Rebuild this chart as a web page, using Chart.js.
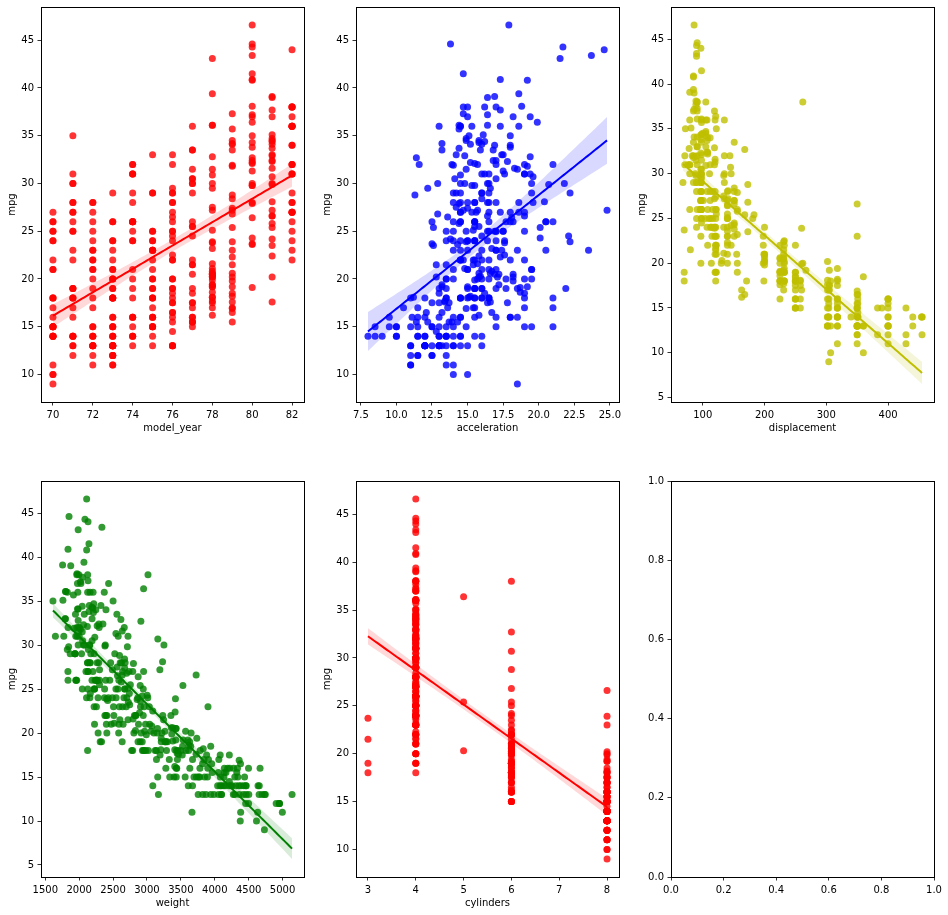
<!DOCTYPE html>
<html>
<head>
<meta charset="utf-8">
<script src="https://cdn.jsdelivr.net/npm/chart.js@4.4.0/dist/chart.umd.min.js"></script>
<style>
body { margin:0; background:#fff; width:948px; height:915px; overflow:hidden; position:relative; }
.panel { position:absolute; }
</style>
</head>
<body>

<div class="panel" id="p0"><canvas id="c0"></canvas></div>
<div class="panel" id="p1"><canvas id="c1"></canvas></div>
<div class="panel" id="p2"><canvas id="c2"></canvas></div>
<div class="panel" id="p3"><canvas id="c3"></canvas></div>
<div class="panel" id="p4"><canvas id="c4"></canvas></div>
<div class="panel" id="p5"><canvas id="c5"></canvas></div>

<script>
// auto-mpg rows, one value per car, same order in every array
var mpg = [
18,15,18,16,17,15,14,14,14,15,
15,14,15,14,24,22,18,21,27,26,
25,24,25,26,21,10,10,11,9,27,
28,25,25,19,16,17,19,18,14,14,
14,14,12,13,13,18,22,19,18,23,
28,30,30,31,35,27,26,24,25,23,
20,21,13,14,15,14,17,11,13,12,
13,19,15,13,13,14,18,22,21,26,
22,28,23,28,27,13,14,13,14,15,
12,13,13,14,13,12,13,18,16,18,
18,23,26,11,12,13,12,18,20,21,
22,18,19,21,26,15,16,29,24,20,
19,15,24,20,11,20,21,19,15,31,
26,32,25,16,16,18,16,13,14,14,
14,29,26,26,31,32,28,24,26,24,
26,31,19,18,15,15,16,15,16,14,
17,16,15,18,21,20,13,29,23,20,
23,24,25,24,18,29,19,23,23,22,
25,33,28,25,25,26,27,17.5,16,15.5,
14.5,22,22,24,22.5,29,24.5,29,33,20,
18,18.5,17.5,29.5,32,28,26.5,20,13,19,
19,16.5,16.5,13,13,13,31.5,30,36,25.5,
33.5,17.5,17,15.5,15,17.5,20.5,19,18.5,16,
15.5,15.5,16,29,24.5,26,25.5,30.5,33.5,30,
30.5,22,21.5,21.5,43.1,36.1,32.8,39.4,36.1,19.9,
19.4,20.2,19.2,20.5,20.2,25.1,20.5,19.4,20.6,20.8,
18.6,18.1,19.2,17.7,18.1,17.5,30,27.5,27.2,30.9,
21.1,23.2,23.8,23.9,20.3,17,21.6,16.2,31.5,29.5,
21.5,19.8,22.3,20.2,20.6,17,17.6,16.5,18.2,16.9,
15.5,19.2,18.5,31.9,34.1,35.7,27.4,25.4,23,27.2,
23.9,34.2,34.5,31.8,37.3,28.4,28.8,26.8,33.5,41.5,
38.1,32.1,37.2,28,26.4,24.3,19.1,34.3,29.8,31.3,
37,32.2,46.6,27.9,40.8,44.3,43.4,36.4,30,44.6,
40.9,33.8,29.8,32.7,23.7,35,23.6,32.4,27.2,26.6,
25.8,23.5,30,39.1,39,35.1,32.3,37,37.7,34.1,
34.7,34.4,29.9,33,34.5,33.7,32.4,32.9,31.6,28.1,
30.7,25.4,24.2,22.4,26.6,20.2,17.6,28,27,34,
31,29,27,24,23,36,37,31,38,36,
36,36,34,38,32,38,25,38,26,22,
32,36,27,27,44,32,28,31
];

var cylinders = [
8,8,8,8,8,8,8,8,8,8,
8,8,8,8,4,6,6,6,4,4,
4,4,4,4,6,8,8,8,8,4,
4,4,4,6,6,6,6,6,8,8,
8,8,8,8,8,6,4,6,6,4,
4,4,4,4,4,4,4,4,4,4,
4,4,8,8,8,8,8,8,8,8,
8,3,8,8,8,8,4,4,4,4,
4,4,4,4,4,8,8,8,8,8,
8,8,8,8,8,8,8,6,6,6,
6,6,4,8,8,8,8,6,4,4,
4,3,4,6,4,8,8,4,4,4,
4,8,4,6,8,6,6,6,6,4,
4,4,4,6,6,6,8,8,8,8,
8,4,4,4,4,4,4,4,4,4,
4,4,6,6,6,6,8,8,8,8,
6,6,6,6,6,8,8,4,4,6,
4,4,4,4,6,4,6,4,4,4,
4,4,4,4,4,4,4,8,8,8,
8,6,6,6,6,4,4,4,4,6,
6,6,6,4,4,4,4,4,8,4,
6,6,8,8,8,8,4,4,4,4,
4,8,8,8,8,6,6,6,6,8,
8,8,8,4,4,4,4,4,4,4,
4,6,4,3,4,4,4,4,4,8,
8,8,6,6,6,4,6,6,6,6,
6,6,8,6,8,8,4,4,4,4,
4,4,4,4,5,6,4,6,4,4,
6,6,4,6,6,8,8,8,8,8,
8,8,8,4,4,4,4,5,8,4,
8,4,4,4,4,4,6,6,4,4,
4,4,4,4,4,4,6,4,4,4,
4,4,4,4,4,4,4,5,4,4,
4,4,4,6,3,4,4,4,4,4,
4,6,4,4,4,4,4,4,4,4,
4,4,4,4,4,4,4,4,4,4,
6,6,6,6,8,6,6,4,4,4,
4,4,4,4,4,4,4,4,4,4,
4,4,4,4,4,4,6,6,4,6,
4,4,4,4,4,4,4,4
];

var displacement = [
307,350,318,304,302,429,454,440,455,390,
383,340,400,455,113,198,199,200,97,97,
110,107,104,121,199,360,307,318,304,97,
140,113,98,232,225,250,250,232,350,400,
351,318,383,400,400,258,140,250,250,122,
116,79,88,71,72,97,91,113,97.5,97,
140,122,350,400,318,351,304,429,350,350,
400,70,304,307,302,318,121,121,120,96,
122,97,120,98,97,350,304,350,302,318,
429,400,351,318,440,455,360,225,250,232,
250,198,97,400,400,360,350,232,97,140,
108,70,122,155,98,350,400,68,116,114,
121,318,121,156,350,198,200,232,250,79,
122,71,140,250,258,225,302,350,318,302,
304,98,79,97,76,83,90,90,116,120,
108,79,225,250,250,250,400,350,318,351,
231,250,258,225,231,262,302,97,140,232,
140,134,90,119,171,90,232,115,120,121,
121,91,107,116,140,98,101,305,318,304,
351,225,250,200,232,85,98,90,91,225,
250,250,258,97,85,97,140,130,318,120,
156,168,350,350,302,318,98,111,79,122,
85,305,260,318,302,250,231,225,250,400,
350,400,351,97,151,97,140,98,98,97,
97,146,121,80,90,98,78,85,91,260,
318,302,231,200,200,140,225,232,231,200,
225,258,305,231,302,318,98,134,119,105,
134,156,151,119,131,163,121,163,89,98,
231,200,140,232,225,305,302,351,318,350,
351,267,360,89,86,98,121,183,350,141,
260,105,105,85,91,151,173,173,151,98,
89,98,86,151,140,151,225,97,134,120,
119,108,86,156,85,90,90,121,146,91,
85,97,89,168,70,122,140,107,135,151,
156,173,135,79,86,81,97,85,89,91,
105,98,98,105,100,107,108,119,120,141,
145,168,146,231,350,200,225,112,112,112,
112,135,151,140,151,105,91,91,105,98,
120,107,108,91,91,91,181,262,156,232,
144,135,151,140,97,135,120,119
];

var weight = [
3504,3693,3436,3433,3449,4341,4354,4312,4425,3850,
3563,3609,3761,3086,2372,2833,2774,2587,2130,1835,
2672,2430,2375,2234,2648,4615,4376,4382,4732,2130,
2264,2228,2046,2634,3439,3329,3302,3288,4209,4464,
4154,4096,4955,4746,5140,2962,2408,3282,3139,2220,
2123,2074,2065,1773,1613,1834,1955,2278,2126,2254,
2408,2226,4274,4385,4135,4129,3672,4633,4502,4456,
4422,2330,3892,4098,4294,4077,2933,2511,2979,2189,
2395,2288,2506,2164,2100,4100,3672,3988,4042,3777,
4952,4464,4363,4237,4735,4951,3821,3121,3278,2945,
3021,2904,1950,4997,4906,4654,4499,2789,2279,2401,
2379,2124,2310,2472,2265,4082,4278,1867,2158,2582,
2868,3399,2660,2807,3664,3102,2875,2901,3336,1950,
2451,1836,2542,3781,3632,3613,4141,4699,4457,4638,
4257,2219,1963,2300,1649,2003,2125,2108,2246,2489,
2391,2000,3264,3459,3432,3158,4668,4440,4498,4657,
3907,3897,3730,3785,3039,3221,3169,2171,2639,2914,
2592,2702,2223,2545,2984,1937,3211,2694,2957,2945,
2671,1795,2464,2220,2572,2255,2202,4215,4190,3962,
4215,3233,3353,3012,3085,2035,2164,1937,1795,3651,
3574,3645,3193,1825,1990,2155,2565,3150,3940,3270,
2930,3820,4380,4055,3870,3755,2045,2155,1825,2300,
1945,3880,4060,4140,4295,3520,3425,3630,3525,4220,
4165,4325,4335,1940,2740,2265,2755,2051,2075,1985,
2190,2815,2600,2720,1985,1800,1985,2070,1800,3365,
3735,3570,3535,3155,2965,2720,3430,3210,3380,3070,
3620,3410,3425,3445,3205,4080,2155,2560,2300,2230,
2515,2745,2855,2405,2830,3140,2795,3410,1990,2135,
3245,2990,2890,3265,3360,3840,3725,3955,3830,4360,
4054,3605,3940,1925,1975,1915,2670,3530,3900,3190,
3420,2200,2150,2020,2130,2670,2595,2700,2556,2144,
1968,2120,2019,2678,2870,3003,3381,2188,2711,2542,
2434,2265,2110,2800,2110,2085,2335,2950,3250,1850,
1835,2145,1845,2910,2420,2500,2905,2290,2490,2635,
2620,2725,2385,1755,1875,1760,2065,1975,2050,1985,
2215,2045,2380,2190,2320,2210,2350,2615,2635,3230,
3160,2900,2930,3415,3725,3060,3465,2605,2640,2395,
2575,2525,2735,2865,3035,1980,2025,1970,2125,2125,
2160,2205,2245,1965,1965,1995,2945,3015,2585,2835,
2665,2370,2950,2790,2130,2295,2625,2720
];

var acceleration = [
12,11.5,11,12,10.5,10,9,8.5,10,8.5,
10,8,9.5,10,15,15.5,15.5,16,14.5,20.5,
17.5,14.5,17.5,12.5,15,14,15,13.5,18.5,14.5,
15.5,14,19,13,15.5,15.5,15.5,15.5,12,11.5,
13.5,13,11.5,12,12,13.5,19,15,14.5,14,
14,19.5,14.5,19,18,19,20.5,15.5,17,23.5,
19.5,16.5,12,12,13.5,13,11.5,11,13.5,13.5,
12.5,13.5,12.5,14,16,14,14.5,18,19.5,18,
16,17,14.5,15,16.5,13,11.5,13,14.5,12.5,
11.5,12,13,14.5,11,11,11,16.5,18,16,
16.5,16,21,14,12.5,13,12.5,15,19,19.5,
16.5,13.5,18.5,14,15.5,13,9.5,19.5,15.5,14,
15.5,11,14,13.5,11,16.5,17,16,17,19,
16.5,21,17,17,18,16.5,14,14.5,13.5,16,
15.5,16.5,15.5,14.5,16.5,19,14.5,15.5,14,15,
15.5,16,16,16,21,19.5,11.5,14,14.5,13.5,
21,18.5,19,19,15,13.5,12,16,17,16,
18.5,13.5,16.5,17,14.5,14,17,15,17,14.5,
13.5,17.5,15.5,16.9,14.9,17.7,15.3,13,13,13.9,
12.8,15.4,14.5,17.6,17.6,22.2,22.1,14.2,17.4,17.7,
21,16.2,17.8,12.2,17,16.4,13.6,15.7,13.2,21.9,
15.5,16.7,12.1,12,15,14,18.5,14.8,18.6,15.5,
16.8,12.5,19,13.7,14.9,16.4,16.9,17.7,19,11.1,
11.4,12.2,14.5,14.5,16,18.2,15.8,17,15.9,16.4,
14.1,14.5,12.8,13.5,21.5,14.4,19.4,18.6,16.4,15.5,
13.2,12.8,19.2,18.2,15.8,15.4,17.2,17.2,15.8,16.7,
18.7,15.1,13.2,13.4,11.2,13.7,16.5,14.2,14.7,14.5,
14.8,16.7,17.6,14.9,15.9,13.6,15.7,15.8,14.9,16.6,
15.4,18.2,17.3,18.2,16.6,15.4,13.4,13.2,15.2,14.9,
14.3,15,13,14,15.2,14.4,15,20.1,17.4,24.8,
22.2,13.2,14.9,19.2,14.7,16,11.3,12.9,13.2,14.7,
18.8,15.5,16.4,16.5,18.1,20.1,18.7,15.8,15.5,17.5,
15,15.2,17.9,14.4,19.2,21.7,23.7,19.9,21.8,13.8,
17.3,18,15.3,11.4,12.5,15.1,14.3,17,15.7,16.4,
14.4,12.6,12.9,16.9,16.4,16.1,17.8,19.4,17.3,16,
14.9,16.2,20.7,14.2,15.8,14.4,16.8,14.8,18.3,20.4,
19.6,12.6,13.8,15.8,19,17.1,16.6,19.6,18.6,18,
16.2,16,18,16.4,20.5,15.3,18.2,17.6,14.7,17.3,
14.5,14.5,16.9,15,15.7,16.2,16.4,17,14.5,14.7,
13.9,13,17.3,15.6,24.6,11.6,18.6,19.4
];

var modelYear = [
70,70,70,70,70,70,70,70,70,70,
70,70,70,70,70,70,70,70,70,70,
70,70,70,70,70,70,70,70,70,71,
71,71,71,71,71,71,71,71,71,71,
71,71,71,71,71,71,71,71,71,71,
71,71,71,71,71,71,71,72,72,72,
72,72,72,72,72,72,72,72,72,72,
72,72,72,72,72,72,72,72,72,72,
72,72,72,72,72,73,73,73,73,73,
73,73,73,73,73,73,73,73,73,73,
73,73,73,73,73,73,73,73,73,73,
73,73,73,73,73,73,73,73,73,73,
73,73,73,73,73,74,74,74,74,74,
74,74,74,74,74,74,74,74,74,74,
74,74,74,74,74,74,74,74,74,74,
74,74,75,75,75,75,75,75,75,75,
75,75,75,75,75,75,75,75,75,75,
75,75,75,75,75,75,75,75,75,75,
75,75,76,76,76,76,76,76,76,76,
76,76,76,76,76,76,76,76,76,76,
76,76,76,76,76,76,76,76,76,76,
76,76,76,76,76,76,77,77,77,77,
77,77,77,77,77,77,77,77,77,77,
77,77,77,77,77,77,77,77,77,77,
77,77,77,77,78,78,78,78,78,78,
78,78,78,78,78,78,78,78,78,78,
78,78,78,78,78,78,78,78,78,78,
78,78,78,78,78,78,78,78,78,78,
79,79,79,79,79,79,79,79,79,79,
79,79,79,79,79,79,79,79,79,79,
79,79,79,79,79,79,79,79,79,80,
80,80,80,80,80,80,80,80,80,80,
80,80,80,80,80,80,80,80,80,80,
80,80,80,80,80,80,80,80,81,81,
81,81,81,81,81,81,81,81,81,81,
81,81,81,81,81,81,81,81,81,81,
81,81,81,81,81,81,81,82,82,82,
82,82,82,82,82,82,82,82,82,82,
82,82,82,82,82,82,82,82,82,82,
82,82,82,82,82,82,82,82
];

// tick labels
var mpgTicks = [10, 15, 20, 25, 30, 35, 40, 45];
var mpgTicksFrom5 = [5, 10, 15, 20, 25, 30, 35, 40, 45];
var yearTicks = [70, 72, 74, 76, 78, 80, 82];
var accelerationTicks = [7.5, 10, 12.5, 15, 17.5, 20, 22.5, 25];
var displacementTicks = [100, 200, 300, 400];
var weightTicks = [1500, 2000, 2500, 3000, 3500, 4000, 4500, 5000];
var cylinderTicks = [3, 4, 5, 6, 7, 8];
var unitTicks = [0, 0.2, 0.4, 0.6, 0.8, 1.0];

var panels = [
	{ x: modelYear, name: "model_year", rgb: "255,0,0", xTicks: yearTicks, yTicks: mpgTicks, digits: 0 },
	{ x: acceleration, name: "acceleration", rgb: "0,0,255", xTicks: accelerationTicks, yTicks: mpgTicks, digits: 1 },
	{ x: displacement, name: "displacement", rgb: "191,191,0", xTicks: displacementTicks, yTicks: mpgTicksFrom5, digits: 0 },
	{ x: weight, name: "weight", rgb: "0,128,0", xTicks: weightTicks, yTicks: mpgTicksFrom5, digits: 0 },
	{ x: cylinders, name: "cylinders", rgb: "255,0,0", xTicks: cylinderTicks, yTicks: mpgTicks, digits: 0 },
	{ x: null, name: "", rgb: "0,0,0", xTicks: unitTicks, yTicks: unitTicks, digits: 1 }
];

// plot areas on the page (left, top, width, height)
var boxes = [
	[41, 7, 263, 395], [356, 7, 263, 395], [671, 7, 263, 395],
	[41, 481, 263, 396], [356, 481, 263, 396], [671, 481, 263, 396]
];
var AXIS_W = 40, AXIS_H = 32, PAD_TOP = 8, PAD_RIGHT = 10;

// least squares line with a 95% band for the mean, on a 100 point grid
function regression(xs, ys)
{
	var n = xs.length, mx = 0, my = 0;
	for (var i = 0; i < n; i++) { mx += xs[i]; my += ys[i]; }
	mx /= n; my /= n;
	var sxx = 0, sxy = 0;
	for (var i = 0; i < n; i++) {
		sxx += (xs[i] - mx) * (xs[i] - mx);
		sxy += (xs[i] - mx) * (ys[i] - my);
	}
	var b = sxy / sxx, a = my - b * mx;
	var sse = 0;
	for (var i = 0; i < n; i++) sse += Math.pow(ys[i] - a - b * xs[i], 2);
	var s = Math.sqrt(sse / (n - 2));
	var lo = Math.min.apply(null, xs), hi = Math.max.apply(null, xs);
	var line = [], upper = [], lower = [];
	for (var k = 0; k < 100; k++) {
		var x = lo + (hi - lo) * k / 99;
		var yh = a + b * x;
		var se = 1.966 * s * Math.sqrt(1 / n + (x - mx) * (x - mx) / sxx);
		line.push({ x: x, y: yh });
		upper.push({ x: x, y: yh + se });
		lower.push({ x: x, y: yh - se });
	}
	return { line: line, upper: upper, lower: lower, lo: lo, hi: hi };
}

var framePlugin = {
	id: "frame",
	afterDatasetsDraw: function(chart) {
		var ctx = chart.ctx, a = chart.chartArea;
		ctx.save();
		ctx.strokeStyle = "#000";
		ctx.lineWidth = 1;
		ctx.strokeRect(a.left + 0.5, a.top + 0.5, a.right - a.left, a.bottom - a.top);
		ctx.restore();
	}
};

var font = { family: "'DejaVu Sans'", size: 10 };

function axis(ticks, digits, title, min, max, horizontal)
{
	return {
		type: "linear",
		min: min,
		max: max,
		afterBuildTicks: function(scale) { scale.ticks = ticks.map(function(v) { return { value: v }; }); },
		afterFit: function(scale) {
			if (horizontal) scale.height = AXIS_H; else scale.width = AXIS_W;
			scale.paddingLeft = scale.paddingRight = scale.paddingTop = scale.paddingBottom = 0;
		},
		grid: { display: true, drawOnChartArea: false, drawTicks: true, tickLength: 3.5, tickWidth: 0.8, tickColor: "#000" },
		border: { display: false },
		ticks: {
			padding: 3.5, color: "#000", font: font, maxRotation: 0, autoSkip: false,
			callback: function(v) { return Number(v).toFixed(digits); }
		},
		title: {
			display: title != "", text: title, color: "#000", font: font,
			padding: horizontal ? { top: 0, bottom: 0 } : { top: 5, bottom: 0 }
		}
	};
}

panels.forEach(function(p, i) {
	var box = boxes[i];
	var div = document.getElementById("p" + i);
	div.style.left = (box[0] - AXIS_W) + "px";
	div.style.top = (box[1] - PAD_TOP) + "px";
	div.style.width = (AXIS_W + box[2] + PAD_RIGHT) + "px";
	div.style.height = (PAD_TOP + box[3] + AXIS_H) + "px";

	var datasets = [];
	var xMin = 0, xMax = 1, yMin = 0, yMax = 1;

	if (p.x) {
		var fit = regression(p.x, mpg);
		var points = p.x.map(function(v, j) { return { x: v, y: mpg[j] }; });
		datasets = [
			{ type: "line", data: fit.line, borderColor: "rgb(" + p.rgb + ")", borderWidth: 2, pointRadius: 0, fill: false, order: 0 },
			{ type: "line", data: fit.upper, borderColor: "transparent", borderWidth: 0, pointRadius: 0,
				fill: "+1", backgroundColor: "rgba(" + p.rgb + ",0.15)", order: 1 },
			{ type: "line", data: fit.lower, borderColor: "transparent", borderWidth: 0, pointRadius: 0, fill: false, order: 1 },
			{ type: "scatter", data: points, pointRadius: 3.5, borderWidth: 0,
				backgroundColor: "rgba(" + p.rgb + ",0.8)", order: 2 }
		];
		// limits the way matplotlib autoscales: data extent plus 5% each side
		var lows = mpg.concat(fit.lower.map(function(q) { return q.y; }));
		var highs = mpg.concat(fit.upper.map(function(q) { return q.y; }));
		var y0 = Math.min.apply(null, lows), y1 = Math.max.apply(null, highs);
		xMin = fit.lo - 0.05 * (fit.hi - fit.lo);
		xMax = fit.hi + 0.05 * (fit.hi - fit.lo);
		yMin = y0 - 0.05 * (y1 - y0);
		yMax = y1 + 0.05 * (y1 - y0);
	}

	new Chart(document.getElementById("c" + i), {
		type: "scatter",
		data: { datasets: datasets },
		options: {
			animation: false,
			responsive: true,
			maintainAspectRatio: false,
			devicePixelRatio: 1,
			events: [],
			layout: { padding: { left: 0, top: PAD_TOP, right: PAD_RIGHT, bottom: 0 } },
			plugins: { legend: { display: false }, tooltip: { enabled: false } },
			scales: {
				x: axis(p.xTicks, p.digits, p.name, xMin, xMax, true),
				y: axis(p.yTicks, p.x ? 0 : 1, p.x ? "mpg" : "", yMin, yMax, false)
			}
		},
		plugins: [framePlugin]
	});
});
</script>

</body>
</html>
